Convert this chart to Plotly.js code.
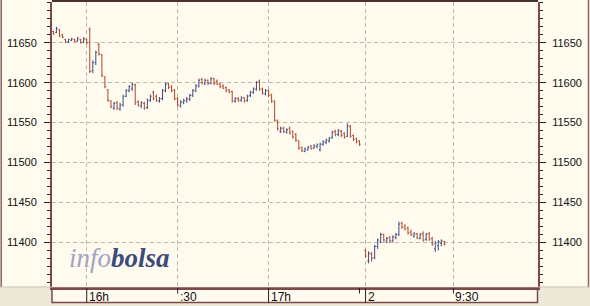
<!DOCTYPE html>
<html><head><meta charset="utf-8">
<script src="https://cdn.plot.ly/plotly-3.0.1.min.js"></script>
<style>html,body{margin:0;padding:0;background:#FFFBEF;}#chart{width:590px;height:306px;}</style>
</head><body><div id="chart"></div>
<script>
// ---- Day 1 (1-minute bars) ----
const day1Times = ["15:49","15:50","15:51","15:52","15:53","15:54","15:55","15:56","15:57","15:58","15:59",
"16:00","16:01","16:02","16:03","16:04","16:05","16:06","16:07","16:08","16:09",
"16:10","16:11","16:12","16:13","16:14","16:15","16:16","16:17","16:18","16:19",
"16:20","16:21","16:22","16:23","16:24","16:25","16:26","16:27","16:28","16:29",
"16:30","16:31","16:32","16:33","16:34","16:35","16:36","16:37","16:38","16:39",
"16:40","16:41","16:42","16:43","16:44","16:45","16:46","16:47","16:48","16:49",
"16:50","16:51","16:52","16:53","16:54","16:55","16:56","16:57","16:58","16:59",
"17:00","17:01","17:02","17:03","17:04","17:05","17:06","17:07","17:08","17:09",
"17:10","17:11","17:12","17:13","17:14","17:15","17:16","17:17","17:18","17:19",
"17:20","17:21","17:22","17:23","17:24","17:25","17:26","17:27","17:28","17:29","17:30"];
const day1Open = [11664,11663,11666,11660,11654,11651,11653,11654,11652,11654,
11651,11654,11667,11615,11625,11648,11635,11607,11591,11577,
11568,11575,11567,11572,11583,11590,11592,11597,11576,11571,
11574,11569,11578,11588,11583,11577,11580,11590,11599,11595,
11591,11580,11571,11575,11577,11579,11584,11590,11596,11604,
11599,11603,11599,11605,11602,11599,11596,11594,11591,11589,
11577,11580,11578,11581,11578,11584,11588,11592,11602,11592,
11586,11590,11585,11576,11552,11539,11543,11538,11543,11539,
11535,11527,11519,11514,11516,11521,11518,11520,11516,11523,
11525,11527,11531,11539,11535,11539,11536,11533,11545,11534,
11530,11527];
const day1High = [11665,11670,11667,11661,11655,11655,11656,11655,11657,11655,
11657,11655,11669,11628,11640,11650,11636,11608,11592,11578,
11576,11577,11575,11585,11592,11597,11600,11599,11578,11577,
11576,11580,11585,11590,11585,11582,11592,11600,11600,11597,
11592,11582,11578,11580,11582,11586,11592,11598,11605,11606,
11605,11604,11607,11606,11604,11600,11598,11595,11592,11590,
11582,11582,11583,11582,11585,11590,11594,11602,11604,11594,
11592,11591,11586,11578,11554,11545,11545,11543,11545,11540,
11537,11528,11520,11519,11521,11522,11523,11524,11525,11528,
11530,11532,11540,11541,11542,11541,11538,11549,11547,11535,
11531,11528];
const day1Low = [11660,11662,11657,11656,11650,11650,11652,11651,11651,11649,
11650,11648,11612,11612,11622,11634,11607,11593,11576,11568,
11566,11566,11565,11570,11582,11588,11590,11572,11570,11568,
11566,11567,11576,11578,11576,11575,11578,11588,11592,11588,
11578,11570,11569,11573,11575,11577,11582,11588,11594,11598,
11597,11597,11598,11597,11597,11593,11592,11588,11587,11575,
11575,11576,11576,11575,11576,11582,11586,11590,11590,11585,
11584,11582,11575,11551,11540,11537,11537,11536,11535,11530,
11526,11516,11513,11513,11515,11516,11517,11518,11514,11521,
11523,11525,11530,11533,11533,11532,11530,11532,11531,11527,
11524,11521];
const day1Close = [11661,11668,11658,11657,11651,11654,11655,11652,11656,11650,
11655,11650,11614,11625,11638,11636,11609,11595,11578,11570,
11574,11568,11572,11583,11590,11595,11598,11575,11572,11575,
11568,11578,11583,11580,11578,11580,11590,11598,11594,11590,
11580,11572,11576,11578,11580,11584,11590,11596,11603,11600,
11603,11599,11605,11599,11598,11595,11593,11590,11588,11577,
11580,11578,11581,11577,11583,11588,11592,11600,11592,11587,
11590,11584,11577,11553,11542,11543,11539,11541,11537,11532,
11528,11518,11515,11517,11519,11518,11521,11522,11523,11526,
11528,11530,11538,11535,11540,11534,11532,11546,11533,11529,
11526,11523];

// ---- Day 2 ----
const day2Times = ["9:01","9:02","9:03","9:04","9:05","9:06","9:07","9:08","9:09","9:10",
"9:11","9:12","9:13","9:14","9:15","9:16","9:17","9:18","9:19","9:20",
"9:21","9:22","9:23","9:24","9:25","9:26","9:27"];
const day2Open  = [11390,11377,11386,11381,11395,11401,11410,11401,11406,11402,11406,11410,11424,11420,11418,11413,11408,11411,11405,11411,11404,11411,11405,11392,11396,11399,11401];
const day2High  = [11392,11389,11388,11397,11405,11412,11411,11407,11408,11409,11412,11426,11426,11423,11420,11416,11413,11412,11412,11414,11412,11413,11407,11402,11403,11404,11402];
const day2Low   = [11381,11374,11376,11379,11392,11399,11401,11399,11400,11400,11404,11408,11417,11415,11410,11408,11406,11404,11404,11401,11402,11402,11396,11388,11390,11395,11396];
const day2Close = [11383,11386,11380,11395,11403,11410,11403,11405,11402,11407,11410,11423,11419,11417,11412,11410,11411,11406,11410,11403,11410,11404,11398,11399,11401,11402,11398];

// axis ticks
const xTickTimes = [[1,"16:00","16h",true],[1,"16:30",":30",false],[1,"17:00","17h",true],[1,"17:30","",false],[2,"9:01","2",true],[2,"9:30","9:30",false]];
const gridTimes = [[1,"16:00"],[1,"16:30"],[1,"17:00"],[2,"9:01"],[2,"9:30"]];
const yTicks = [11400,11450,11500,11550,11600,11650];

// session timeline -> continuous minute slot (day 2 follows right after the close)
function slot(day, t){
  const p = t.split(':').map(Number), m = p[0]*60 + p[1];
  return day === 1 ? m - (15*60+49) : (17*60+30 - (15*60+49)) + 1 + (m - 9*60);
}
const x = day1Times.map(t=>slot(1,t)).concat(day2Times.map(t=>slot(2,t)));

const W=590,H=306,L=52,R=52,T=2,B=18;
const pw=W-L-R, ph=H-T-B;
const px=v=>(v-L)/pw, py=v=>(H-B-v)/ph;
const MAROON='#7D4848', GRAY='#ECE9D8', CREAM='#FFFBEF';

const traces=[{
  type:'ohlc', x:x,
  open:day1Open.concat(day2Open), high:day1High.concat(day2High),
  low:day1Low.concat(day2Low), close:day1Close.concat(day2Close),
  increasing:{line:{color:'#3F4A86',width:1}},
  decreasing:{line:{color:'#B0482A',width:1}},
  tickwidth:0.4, hoverinfo:'skip', xaxis:'x', yaxis:'y'
},{
  type:'scatter', mode:'markers', x:[x[0]], y:[day1Close[0]], marker:{opacity:0},
  hoverinfo:'skip', xaxis:'x', yaxis:'y2'
}];

const shapes=[
  {type:'rect',xref:'paper',yref:'paper',x0:px(0),x1:px(52),y0:py(306),y1:py(287.5),fillcolor:GRAY,line:{width:0},layer:'below'},
  {type:'rect',xref:'paper',yref:'paper',x0:px(538),x1:px(590),y0:py(306),y1:py(287.5),fillcolor:GRAY,line:{width:0},layer:'below'},
  {type:'rect',xref:'paper',yref:'paper',x0:px(52),x1:px(538),y0:py(306),y1:py(303),fillcolor:GRAY,line:{width:0},layer:'below'},
  {type:'rect',xref:'paper',yref:'paper',x0:px(52),x1:px(537.5),y0:py(302.5),y1:py(288),line:{color:MAROON,width:1.5}},
  {type:'line',xref:'paper',yref:'paper',x0:px(1.2),x1:px(1.2),y0:py(0),y1:py(287),line:{color:'#8A6262',width:1.5}},
  {type:'line',xref:'paper',yref:'paper',x0:px(588.5),x1:px(588.5),y0:py(0),y1:py(287),line:{color:'#8A6262',width:1.5}},
  {type:'line',xref:'paper',yref:'paper',x0:px(0),x1:px(52),y0:py(287),y1:py(287),line:{color:'#C9BBAA',width:1}},
  {type:'line',xref:'paper',yref:'paper',x0:px(538),x1:px(590),y0:py(287),y1:py(287),line:{color:'#C9BBAA',width:1}},
  {type:'line',xref:'paper',yref:'paper',x0:px(52),x1:px(538),y0:py(1),y1:py(1),line:{color:'#4A3030',width:2}}
];
const annotations=[];
xTickTimes.forEach(([d,t,lab,long])=>{
  const xv=slot(d,t);
  shapes.push({type:'line',xref:'x',yref:'paper',x0:xv,x1:xv,y0:py(288),y1:py(long?302.5:293.5),line:{color:'#222',width:1}});
  if(lab) annotations.push({xref:'x',yref:'paper',x:xv,y:py(297),xanchor:'left',yanchor:'middle',xshift:0,
    text:lab,showarrow:false,font:{family:'Liberation Sans, Arial, sans-serif',size:12,color:'#111'}});
});
annotations.push({xref:'paper',yref:'paper',x:px(67),y:py(258),xanchor:'left',yanchor:'middle',showarrow:false,
  text:'<i><span style="color:#A2A4C2">info</span><span style="color:#3D4B7C"><b>bolsa</b></span></i>',
  font:{family:'Liberation Serif, Times New Roman, serif',size:27}});

const yCommon={range:[11343,11701],tickmode:'array',tickvals:yTicks,ticktext:yTicks.map(String),
  ticks:'outside',ticklen:6,tickwidth:1,tickcolor:'#222',showline:true,linecolor:MAROON,linewidth:2,
  zeroline:false,fixedrange:true,
  tickfont:{family:'Liberation Sans, Arial, sans-serif',size:11,color:'#111'},
  minor:{tickmode:'linear',tick0:11400,dtick:10,ticks:'outside',ticklen:3,tickwidth:1,tickcolor:'#222',showgrid:false}};

const layout={
  width:W,height:H,margin:{l:L,r:R,t:T,b:B,pad:0},
  paper_bgcolor:CREAM,plot_bgcolor:CREAM,showlegend:false,hovermode:false,
  xaxis:{range:[-0.46,159.9],tickmode:'array',tickvals:gridTimes.map(([d,t])=>slot(d,t)),
    showticklabels:false,ticks:'',showgrid:true,gridcolor:'#BDB8AA',griddash:'4px,3px',gridwidth:1,
    showline:true,linecolor:MAROON,linewidth:2,zeroline:false,rangeslider:{visible:false},fixedrange:true},
  yaxis:Object.assign({},yCommon,{side:'left',showgrid:true,gridcolor:'#BDB8AA',griddash:'4px,3px',gridwidth:1,ticklabelstandoff:5}),
  yaxis2:Object.assign({},yCommon,{side:'right',overlaying:'y',showgrid:false,ticklabelstandoff:4}),
  shapes:shapes,annotations:annotations
};
Plotly.newPlot('chart',traces,layout,{displayModeBar:false,staticPlot:true});
</script></body></html>
